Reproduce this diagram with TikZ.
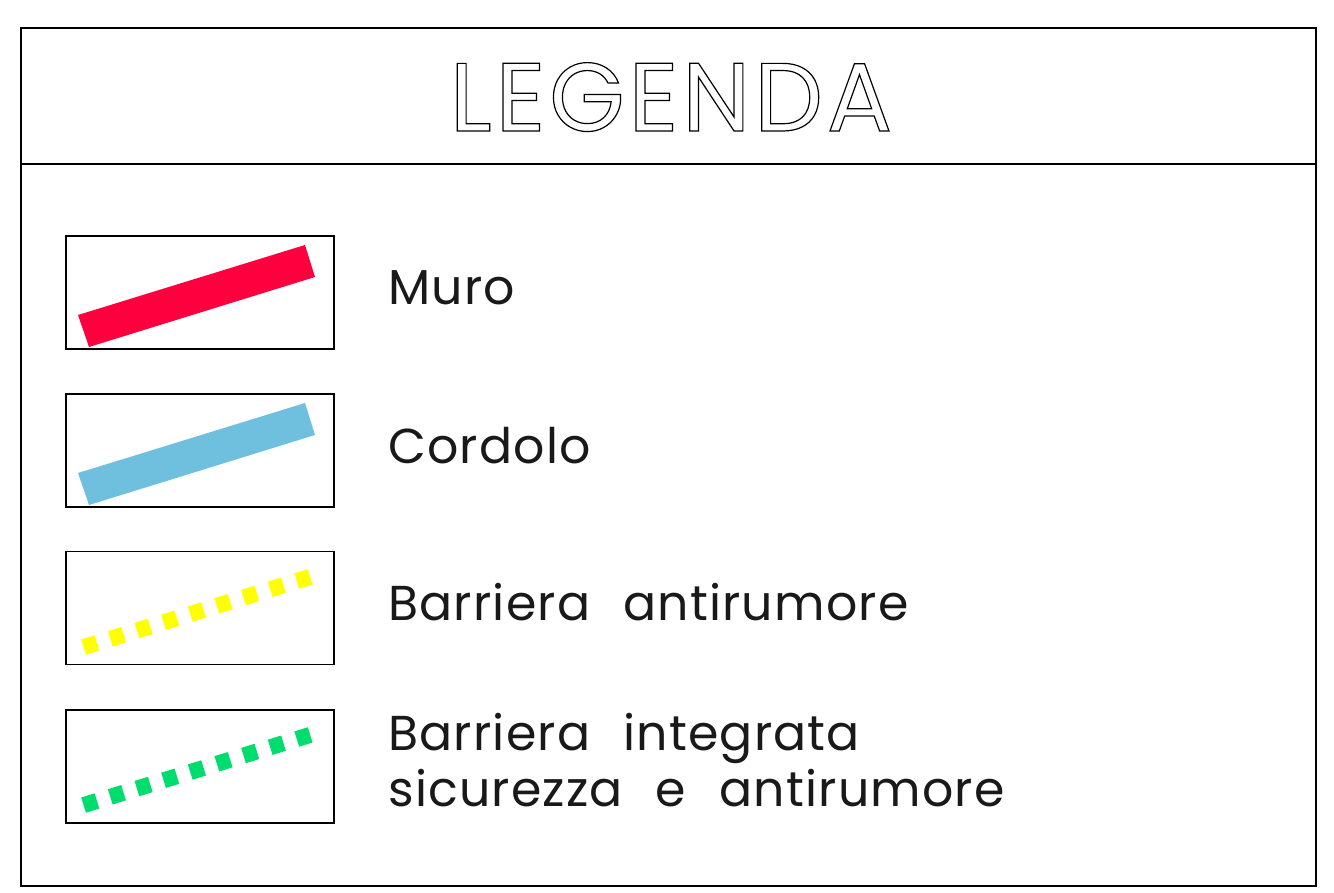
\documentclass[tikz,border=0pt]{standalone}
\usepackage{fontspec}
\setmainfont{Poppins}[LetterSpace=2.5,WordSpace=2.3]
\newfontfamily\titlefont{Poppins}[LetterSpace=4]
\definecolor{murored}{RGB}{255,0,63}
\definecolor{cordblue}{RGB}{110,192,222}
\definecolor{barryel}{RGB}{255,255,0}
\definecolor{bargreen}{RGB}{0,220,110}
\tikzset{
  frameline/.style={line width=1.3pt,black},
  legbox/.style={draw,line width=1.3pt,minimum width=268pt,minimum height=113pt,inner sep=0pt},
  legtext/.style={anchor=base west,inner sep=0pt,font=\fontsize{49}{56}\selectfont,text=black!90},
  dashbar/.style={line width=16pt,dash pattern=on 14pt off 13.9pt},
}
\begin{document}
\begin{tikzpicture}[x=1pt,y=-1pt]
\useasboundingbox (0,0) rectangle (1334,893);
\draw[frameline] (21,28) rectangle (1316,886);
\draw[frameline] (21,164) -- (1316,164);
\node[anchor=base,inner sep=0pt,font=\titlefont\fontsize{97}{110}\selectfont] (title) at (671,131)
  {\special{pdf:literal direct 1 Tr 1.2 w}LEGENDA\special{pdf:literal direct 0 Tr}};
% boxes
\node[legbox] (b1) at (200,292.5) {};
\node[legbox] (b2) at (200,450.5) {};
\node[legbox] (b3) at (200,608) {};
\node[legbox] (b4) at (200,766.5) {};
% symbols
\fill[murored] (78,315) -- (89,347) -- (315,277) -- (305,245) -- cycle;
\fill[cordblue] (78,473) -- (89,505) -- (315,435) -- (305,403) -- cycle;
\draw[dashbar,barryel] (83.6,647.1) -- (310.2,576.9);
\draw[dashbar,bargreen] (83.6,805.1) -- (310.2,734.9);
% texts
\node[legtext] (t1) at (388,305) {Muro};
\node[legtext] (t2) at (388,463) {Cordolo};
\node[legtext] (t3) at (388,620) {Barriera antirumore};
\node[legtext] (t4a) at (388,750) {Barriera integrata};
\node[legtext] (t4b) at (388,806) {sicurezza e antirumore};
\end{tikzpicture}
\end{document}
